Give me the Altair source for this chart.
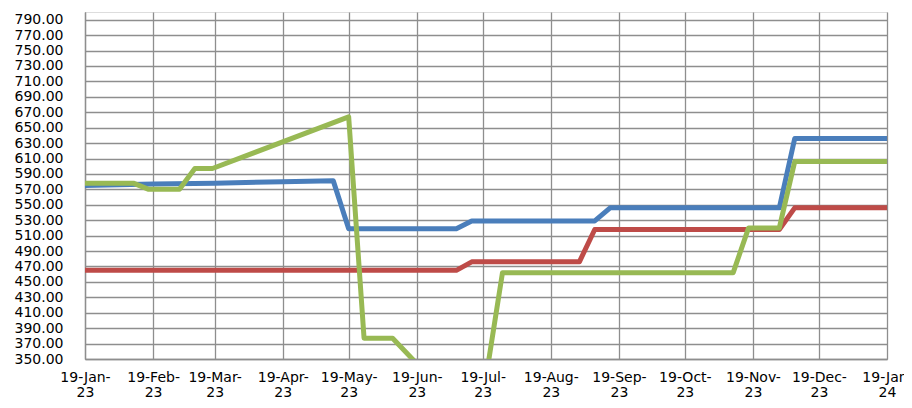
import altair as alt
import pandas as pd

# ---- data ----
blue_dates = ["2023-01-19", "2023-02-19", "2023-03-19", "2023-04-19", "2023-05-12",
              "2023-05-19", "2023-07-07", "2023-07-14", "2023-09-08", "2023-09-15",
              "2023-12-01", "2023-12-08", "2024-01-19"]
blue_values = [575, 577, 578, 580, 581, 519, 519, 529, 529, 546, 546, 636, 636]

red_dates = ["2023-01-19", "2023-07-07", "2023-07-14", "2023-09-01", "2023-09-08",
             "2023-12-01", "2023-12-08", "2024-01-19"]
red_values = [465, 465, 476, 476, 518, 518, 546, 546]

green_dates = ["2023-01-19", "2023-02-10", "2023-02-17", "2023-03-03", "2023-03-10",
               "2023-03-18", "2023-05-19", "2023-05-26", "2023-06-08", "2023-06-22",
               "2023-07-21", "2023-07-28", "2023-11-10", "2023-11-17", "2023-12-01",
               "2023-12-08", "2024-01-19"]
green_values = [578, 578, 570, 570, 597, 597, 664, 377, 377, 335, 335, 462, 462,
                520, 520, 606, 606]

tick_months = [(2023, m) for m in range(1, 13)] + [(2024, 1)]
y_ticks = list(range(350, 791, 20))
y_domain = [350, 800]

FONT = "DejaVu Sans"
GRID = "#8e8e8e"

def frame(dates, values):
    return pd.DataFrame({"date": dates, "value": values})

x_values = [alt.DateTime(year=y, month=m, date=19, utc=True) for y, m in tick_months]

x_enc = alt.X(
    "date:T",
    scale=alt.Scale(type="utc", domain=[x_values[0], x_values[-1]], nice=False),
    axis=alt.Axis(
        values=x_values,
        labelExpr="[utcFormat(datum.value, '%d-%b-'), utcFormat(datum.value, '%y')]",
        title=None, grid=True, gridColor=GRID, gridWidth=1.3,
        domainColor=GRID, domainWidth=1.3, ticks=False, tickSize=0,
        labelPadding=11, labelFont=FONT, labelFontSize=14, labelColor="#000000",
        labelLineHeight=15, labelOverlap=False, labelBound=False, labelFlush=False,
    ),
)
y_enc = alt.Y(
    "value:Q",
    scale=alt.Scale(domain=y_domain, nice=False, zero=False),
    axis=alt.Axis(
        values=y_ticks, format=".2f", title=None, grid=True, gridColor=GRID,
        gridWidth=1.3, domainColor=GRID, domainWidth=1.3, ticks=False, tickSize=0,
        labelPadding=22, labelFont=FONT, labelFontSize=14, labelColor="#000000",
        labelOverlap=False,
    ),
)

def line(dates, values, color):
    return alt.Chart(frame(dates, values)).mark_line(
        color=color, strokeWidth=5, clip=True, strokeJoin="round"
    ).encode(x=x_enc, y=y_enc)

blue = line(blue_dates, blue_values, "#4a7ebb")
red = line(red_dates, red_values, "#be4b48")
green = line(green_dates, green_values, "#98b954")

chart = alt.layer(blue, red, green).properties(
    width=802, height=347,
    padding={"left": 77, "top": 4, "right": 17, "bottom": 41},
    autosize=alt.AutoSizeParams(type="none"),
).configure_view(stroke=None).configure(background="white")

chart.save("out.html", embed_options={"renderer": "svg", "actions": False})
